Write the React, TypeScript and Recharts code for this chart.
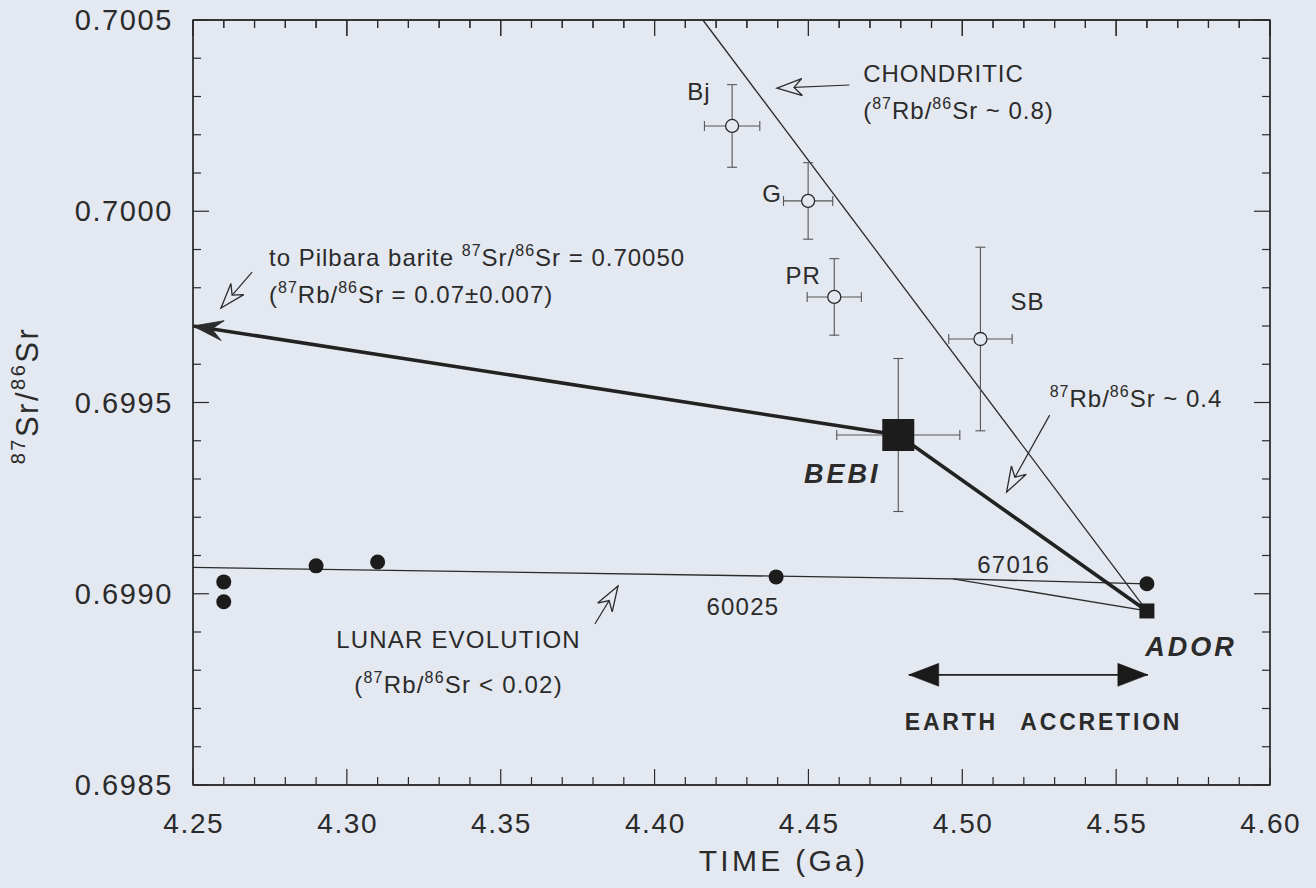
import React from 'react';
import { ComposedChart, XAxis, YAxis, Line, Scatter, ErrorBar, Label, ReferenceArea, ReferenceLine } from 'recharts';

const BG = '#e4e8f0';
const INK = '#2b2b2b';
const BAR = '#555555';
const FONT = '"Liberation Sans", Arial, Helvetica, sans-serif';

// ---------- axis ticks ----------
const xTicks = [
  4.25, 4.26, 4.27, 4.28, 4.29, 4.3, 4.31, 4.32, 4.33, 4.34, 4.35, 4.36, 4.37, 4.38, 4.39, 4.4, 4.41, 4.42,
  4.43, 4.44, 4.45, 4.46, 4.47, 4.48, 4.49, 4.5, 4.51, 4.52, 4.53, 4.54, 4.55, 4.56, 4.57, 4.58, 4.59, 4.6,
];
const xMajorTicks = [4.25, 4.3, 4.35, 4.4, 4.45, 4.5, 4.55, 4.6];
const yTicks = [
  0.6985, 0.6986, 0.6987, 0.6988, 0.6989, 0.699, 0.6991, 0.6992, 0.6993, 0.6994, 0.6995, 0.6996, 0.6997,
  0.6998, 0.6999, 0.7, 0.7001, 0.7002, 0.7003, 0.7004, 0.7005,
];
const yMajorTicks = [0.6985, 0.699, 0.6995, 0.7, 0.7005];
const X_DOMAIN: [number, number] = [4.25, 4.6];
const Y_DOMAIN: [number, number] = [0.6985, 0.7005];
// inward tick lengths of the top frame, in y units (about 16 px and 8 px)
const TOP_TICK_MAJOR = 0.0000418;
const TOP_TICK_MINOR = 0.0000209;

// ---------- data ----------
// meteorite samples (open circles with 2-sigma error bars)
const meteorites = [
  { name: 'Bj', x: 4.4252, y: 0.700223, ex: 0.009, ey: 0.000108 },
  { name: 'G', x: 4.4499, y: 0.700027, ex: 0.008, ey: 0.0001 },
  { name: 'PR', x: 4.4584, y: 0.699776, ex: 0.0088, ey: 0.0001 },
  { name: 'SB', x: 4.5059, y: 0.699666, ex: 0.0103, ey: 0.00024 },
];
const bebi = [{ name: 'BEBI', x: 4.4792, y: 0.699415, ex: 0.02, ey: 0.0002 }];
const ador = [{ name: 'ADOR', x: 4.56, y: 0.698955 }];
const lunarSamples = [
  { x: 4.26, y: 0.699031 },
  { x: 4.26, y: 0.698979 },
  { x: 4.29, y: 0.699073 },
  { x: 4.31, y: 0.699083 },
  { x: 4.4395, y: 0.699044 },
  { x: 4.56, y: 0.699026 },
];

// evolution lines
const chondriticLine = [
  { x: 4.4157, y: 0.7005 },
  { x: 4.56, y: 0.698955 },
];
const earthLine = [
  { x: 4.25, y: 0.6997 },
  { x: 4.4792, y: 0.699415 },
  { x: 4.56, y: 0.698955 },
];
const lunarLine = [
  { x: 4.25, y: 0.699069 },
  { x: 4.497, y: 0.699039 },
  { x: 4.56, y: 0.699026 },
];
const lunarBranch = [
  { x: 4.497, y: 0.699039 },
  { x: 4.56, y: 0.698955 },
];
const accretionSpan = [
  { x: 4.4826, y: 0.698788 },
  { x: 4.5603, y: 0.698788 },
];

// annotation pointers (start -> tip)
const chondriticPointer = [
  { x: 4.4633, y: 0.70033 },
  { x: 4.4398, y: 0.700322 },
];
const pilbaraPointer = [
  { x: 4.2692, y: 0.699841 },
  { x: 4.2591, y: 0.699747 },
];
const lunarPointer = [
  { x: 4.3806, y: 0.698921 },
  { x: 4.3881, y: 0.69902 },
];
const rbPointer = [
  { x: 4.5284, y: 0.699467 },
  { x: 4.5144, y: 0.699266 },
];

// text annotations
const sampleLabels = [
  { x: 4.4144, y: 0.700312, text: 'Bj' },
  { x: 4.4382, y: 0.700045, text: 'G' },
  { x: 4.4483, y: 0.699831, text: 'PR' },
  { x: 4.5212, y: 0.699765, text: 'SB' },
];
const leftNotes = [
  { x: 4.4678, y: 0.700359, text: 'CHONDRITIC' },
  { x: 4.4678, y: 0.700262, text: '(^87Rb/^86Sr ~ 0.8)' },
  { x: 4.5284, y: 0.699509, text: '^87Rb/^86Sr ~ 0.4' },
  { x: 4.2747, y: 0.699878, text: 'to Pilbara barite ^87Sr/^86Sr = 0.70050' },
  { x: 4.2747, y: 0.699781, text: '(^87Rb/^86Sr = 0.07±0.007)' },
];
const centerNotes = [
  { x: 4.5167, y: 0.699075, text: '67016' },
  { x: 4.4287, y: 0.698966, text: '60025' },
  { x: 4.3363, y: 0.69888, text: 'LUNAR EVOLUTION' },
  { x: 4.3363, y: 0.698762, text: '(^87Rb/^86Sr < 0.02)' },
];
const boldNotes = [
  { x: 4.461, y: 0.699313, text: 'BEBI' },
  { x: 4.5743, y: 0.698861, text: 'ADOR' },
];
const accretionNote = [{ x: 4.5264, y: 0.698665, text: 'EARTH', text2: 'ACCRETION' }];

// ---------- helpers ----------
const near = (v: number, list: number[]) => list.some((m) => Math.abs(m - v) < 1e-9);

function richText(text: string, fontSize: number) {
  const parts = text.split(/(\^\d+)/).filter((p) => p.length > 0);
  const supSize = Math.round(fontSize * 0.65);
  const rise = fontSize * 0.42;
  let raised = false;
  return parts.map((p, i) => {
    if (p.startsWith('^')) {
      const el = (
        <tspan key={i} fontSize={supSize} dy={raised ? 0 : -rise}>
          {p.slice(1)}
        </tspan>
      );
      raised = true;
      return el;
    }
    const el = (
      <tspan key={i} dy={raised ? rise : 0}>
        {p}
      </tspan>
    );
    raised = false;
    return el;
  });
}

const makeTextShape =
  (anchor: 'start' | 'middle' | 'end', size: number, ls: number, weight = 'normal', style = 'normal') =>
  (props: any) => {
    const { cx, cy, payload } = props;
    if (cx == null || cy == null) return <g />;
    return (
      <text
        x={cx}
        y={cy + size * 0.35}
        textAnchor={anchor}
        fontSize={size}
        fontFamily={FONT}
        fontWeight={weight}
        fontStyle={style}
        letterSpacing={ls}
        fill={INK}
      >
        {richText(payload.text, size)}
      </text>
    );
  };

const accretionShape = (props: any) => {
  const { cx, cy, payload } = props;
  return (
    <text
      x={cx}
      y={cy + 23 * 0.35}
      textAnchor="middle"
      fontSize={23}
      fontFamily={FONT}
      fontWeight="bold"
      letterSpacing={2.8}
      fill={INK}
    >
      {payload.text} <tspan dx={14}>{payload.text2}</tspan>
    </text>
  );
};

type HeadKind = 'concave' | 'hollow' | 'triangle';
const HEADS: Record<HeadKind, { pts: string; fill: string; stroke: string; sw: number }> = {
  concave: { pts: '0,0 -30,-10 -19,0 -30,10', fill: INK, stroke: INK, sw: 0.8 },
  hollow: { pts: '0,0 -25,-8.5 -17,0 -25,8.5', fill: BG, stroke: INK, sw: 1.3 },
  triangle: { pts: '0,0 -30,-11.5 -30,11.5', fill: '#1a1a1a', stroke: '#1a1a1a', sw: 0.5 },
};

const arrowDot = (kind: HeadKind, ends: 'first' | 'last' | 'both') => (props: any) => {
  const { cx, cy, index, points } = props;
  const n = points ? points.length : 0;
  const isTip = (ends !== 'last' && index === 0) || (ends !== 'first' && index === n - 1);
  if (!isTip || !points || n < 2 || cx == null) return <g key={`d${index}`} />;
  const nb = index === 0 ? points[1] : points[index - 1];
  const ang = (Math.atan2(cy - nb.y, cx - nb.x) * 180) / Math.PI;
  const h = HEADS[kind];
  return (
    <g key={`d${index}`} transform={`translate(${cx},${cy}) rotate(${ang})`}>
      <polygon points={h.pts} fill={h.fill} stroke={h.stroke} strokeWidth={h.sw} strokeLinejoin="miter" />
    </g>
  );
};

// ---------- ticks ----------
const BottomTick = (props: any) => {
  const { x, y, payload } = props;
  const v = payload.value as number;
  const major = near(v, xMajorTicks);
  return (
    <g>
      <line x1={x} x2={x} y1={y} y2={y - (major ? 16 : 8)} stroke={INK} strokeWidth={1.2} />
      {major && (
        <text x={x + 0.8} y={y + 38 + 28 * 0.35} textAnchor="middle" fontSize={28} letterSpacing={1.6} fontFamily={FONT} fill={INK}>
          {v.toFixed(2)}
        </text>
      )}
    </g>
  );
};
const TopTick = (props: any) => {
  const { x, y, payload } = props;
  const major = near(payload.value, xMajorTicks);
  return <line x1={x} x2={x} y1={y} y2={y + (major ? 16 : 8)} stroke={INK} strokeWidth={1.2} />;
};
const LeftTick = (props: any) => {
  const { x, y, payload } = props;
  const v = payload.value as number;
  const major = near(v, yMajorTicks);
  return (
    <g>
      <line x1={x} x2={x + (major ? 16 : 8)} y1={y} y2={y} stroke={INK} strokeWidth={1.2} />
      {major && (
        <text x={x - 20} y={y + 29 * 0.35} textAnchor="end" fontSize={29} letterSpacing={1.6} fontFamily={FONT} fill={INK}>
          {v.toFixed(4)}
        </text>
      )}
    </g>
  );
};
const RightTick = (props: any) => {
  const { x, y, payload } = props;
  const major = near(payload.value, yMajorTicks);
  return <line x1={x} x2={x - (major ? 16 : 8)} y1={y} y2={y} stroke={INK} strokeWidth={1.2} />;
};

const YTitle = (props: any) => {
  const vb = props.viewBox || { x: 0, y: 20, width: 193, height: 765 };
  const cx = vb.x + 38;
  const cy = vb.y + vb.height / 2 - 7;
  return (
    <text
      x={cx}
      y={cy}
      transform={`rotate(-90, ${cx}, ${cy})`}
      textAnchor="middle"
      fontSize={31}
      letterSpacing={2.5}
      fontFamily={FONT}
      fill={INK}
    >
      {richText('^87Sr/^86Sr', 31)}
    </text>
  );
};
const XTitle = (props: any) => {
  const vb = props.viewBox || { x: 193, y: 785, width: 1077, height: 103 };
  return (
    <text
      x={vb.x + vb.width / 2 + 52}
      y={vb.y + 75 + 30 * 0.35}
      textAnchor="middle"
      fontSize={30}
      letterSpacing={3.3}
      fontFamily={FONT}
      fill={INK}
    >
      TIME (Ga)
    </text>
  );
};

const openCircle = (p: any) => <circle cx={p.cx} cy={p.cy} r={6.5} fill={BG} stroke={INK} strokeWidth={1.3} />;
const bigSquare = (p: any) => <rect x={p.cx - 16} y={p.cy - 16} width={32} height={32} fill="#1c1c1c" />;
const smallSquare = (p: any) => <rect x={p.cx - 7.5} y={p.cy - 7.5} width={15} height={15} fill="#1c1c1c" />;
const blackDot = (p: any) => <circle cx={p.cx} cy={p.cy} r={7.5} fill="#1c1c1c" />;
const nothing = () => <g />;

const AX = { xAxisId: 'b', yAxisId: 'l' } as const;

export default function App() {
  return (
    <div style={{ position: 'fixed', left: 0, top: 0, width: 1316, height: 888, background: BG }}>
      <ComposedChart width={1316} height={888} margin={{ top: 0, right: 45, bottom: 0, left: 0 }}>
        <XAxis
          xAxisId="t"
          orientation="top"
          type="number"
          dataKey="x"
          domain={X_DOMAIN}
          allowDataOverflow
          ticks={xTicks}
          interval={0}
          tickLine={false}
          tickSize={0}
          tickMargin={0}
          tick={TopTick}
          height={20}
          axisLine={{ stroke: INK, strokeWidth: 1.3 }}
        />
        <XAxis
          xAxisId="b"
          orientation="bottom"
          dataKey="x"
          type="number"
          domain={X_DOMAIN}
          ticks={xTicks}
          interval={0}
          tickLine={false}
          tickSize={0}
          tickMargin={0}
          tick={BottomTick}
          height={103}
          axisLine={{ stroke: INK, strokeWidth: 1.3 }}
        >
          <Label content={XTitle} />
        </XAxis>
        <YAxis
          yAxisId="l"
          dataKey="y"
          type="number"
          domain={Y_DOMAIN}
          ticks={yTicks}
          interval={0}
          tickLine={false}
          tickSize={0}
          tickMargin={0}
          tick={LeftTick}
          width={193}
          axisLine={{ stroke: INK, strokeWidth: 1.3 }}
        >
          <Label content={YTitle} />
        </YAxis>
        <YAxis
          yAxisId="r"
          orientation="right"
          dataKey="y"
          type="number"
          domain={Y_DOMAIN}
          allowDataOverflow
          ticks={yTicks}
          interval={0}
          tickLine={false}
          tickSize={0}
          tickMargin={0}
          tick={RightTick}
          width={1}
          axisLine={{ stroke: INK, strokeWidth: 1.3 }}
        />

        {/* invisible series so the mirror (top/right) axes resolve their scales */}
        <Scatter xAxisId="t" yAxisId="r" data={lunarSamples} shape={nothing} isAnimationActive={false} />

        {/* plot frame (top edge and inward top ticks) */}
        <ReferenceArea
          {...AX}
          x1={X_DOMAIN[0]}
          x2={X_DOMAIN[1]}
          y1={Y_DOMAIN[0]}
          y2={Y_DOMAIN[1]}
          fill="none"
          fillOpacity={0}
          stroke={INK}
          strokeWidth={1.3}
          ifOverflow="visible"
        />
        {xTicks.map((v) => (
          <ReferenceLine
            key={`tt${v}`}
            {...AX}
            ifOverflow="visible"
            segment={[
              { x: v, y: Y_DOMAIN[1] },
              { x: v, y: Y_DOMAIN[1] - (near(v, xMajorTicks) ? TOP_TICK_MAJOR : TOP_TICK_MINOR) },
            ]}
            stroke={INK}
            strokeWidth={1.2}
          />
        ))}

        {/* evolution lines */}
        <Line {...AX} data={chondriticLine} dataKey="y" type="linear" stroke={INK} strokeWidth={1.3} dot={false} isAnimationActive={false} />
        <Line {...AX} data={lunarLine} dataKey="y" type="linear" stroke={INK} strokeWidth={1.3} dot={false} isAnimationActive={false} />
        <Line {...AX} data={lunarBranch} dataKey="y" type="linear" stroke={INK} strokeWidth={1.3} dot={false} isAnimationActive={false} />
        <Line {...AX} data={earthLine} dataKey="y" type="linear" stroke="#222" strokeWidth={3.6} dot={arrowDot('concave', 'first')} isAnimationActive={false} />
        <Line {...AX} data={accretionSpan} dataKey="y" type="linear" stroke="#222" strokeWidth={1.6} dot={arrowDot('triangle', 'both')} isAnimationActive={false} />

        {/* pointers */}
        <Line {...AX} data={chondriticPointer} dataKey="y" type="linear" stroke={INK} strokeWidth={1.2} dot={arrowDot('hollow', 'last')} isAnimationActive={false} />
        <Line {...AX} data={pilbaraPointer} dataKey="y" type="linear" stroke={INK} strokeWidth={1.2} dot={arrowDot('hollow', 'last')} isAnimationActive={false} />
        <Line {...AX} data={lunarPointer} dataKey="y" type="linear" stroke={INK} strokeWidth={1.2} dot={arrowDot('hollow', 'last')} isAnimationActive={false} />
        <Line {...AX} data={rbPointer} dataKey="y" type="linear" stroke={INK} strokeWidth={1.2} dot={arrowDot('hollow', 'last')} isAnimationActive={false} />

        {/* samples */}
        <Scatter {...AX} data={meteorites} shape={openCircle} isAnimationActive={false}>
          <ErrorBar dataKey="ex" direction="x" width={5} stroke={BAR} strokeWidth={1.1} />
          <ErrorBar dataKey="ey" direction="y" width={5} stroke={BAR} strokeWidth={1.1} />
        </Scatter>
        <Scatter {...AX} data={bebi} shape={bigSquare} isAnimationActive={false}>
          <ErrorBar dataKey="ex" direction="x" width={5} stroke={BAR} strokeWidth={1.1} />
          <ErrorBar dataKey="ey" direction="y" width={5} stroke={BAR} strokeWidth={1.1} />
        </Scatter>
        <Scatter {...AX} data={lunarSamples} shape={blackDot} isAnimationActive={false} />
        <Scatter {...AX} data={ador} shape={smallSquare} isAnimationActive={false} />

        {/* text */}
        <Scatter {...AX} data={sampleLabels} shape={makeTextShape('middle', 24, 1)} isAnimationActive={false} />
        <Scatter {...AX} data={leftNotes} shape={makeTextShape('start', 24, 1)} isAnimationActive={false} />
        <Scatter {...AX} data={centerNotes} shape={makeTextShape('middle', 24, 1.2)} isAnimationActive={false} />
        <Scatter {...AX} data={boldNotes} shape={makeTextShape('middle', 27, 3, 'bold', 'italic')} isAnimationActive={false} />
        <Scatter {...AX} data={accretionNote} shape={accretionShape} isAnimationActive={false} />
      </ComposedChart>
    </div>
  );
}
